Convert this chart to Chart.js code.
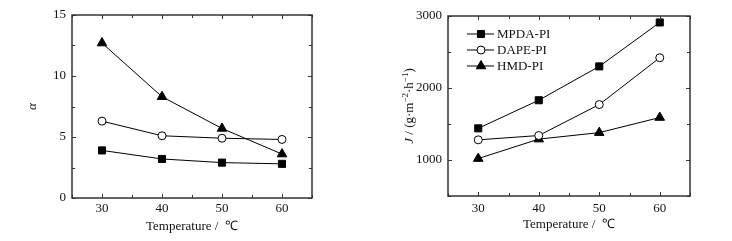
<!DOCTYPE html>
<html>
<head>
<meta charset="utf-8">
<script src="https://cdn.jsdelivr.net/npm/chart.js@4.4.0/dist/chart.umd.min.js"></script>
<style>
body { margin: 0; background: #fff; }
.panel { position: absolute; top: 0; width: 366px; height: 241px; }
</style>
</head>
<body>
<div class="panel" style="left:0"><canvas id="graficoAlfa" width="366" height="241"></canvas></div>
<div class="panel" style="left:366px"><canvas id="graficoFlujo" width="366" height="241"></canvas></div>
<script>
const temperaturas = [30, 40, 50, 60];
const nombres = ['MPDA-PI', 'DAPE-PI', 'HMD-PI'];

const alfaMPDA = [3.9, 3.2, 2.9, 2.8];
const alfaDAPE = [6.3, 5.1, 4.9, 4.8];
const alfaHMD = [12.7, 8.3, 5.7, 3.6];

const flujoMPDA = [1440, 1830, 2300, 2910];
const flujoDAPE = [1280, 1340, 1770, 2420];
const flujoHMD = [1020, 1290, 1380, 1590];

const FUENTE = 'Liberation Serif, Times New Roman, serif';
const estilos = [
    { pointStyle: 'rect', pointRadius: 5, bg: '#000' },
    { pointStyle: 'circle', pointRadius: 4, bg: '#fff' },
    { pointStyle: 'triangle', pointRadius: 5.5, bg: '#000' }
];

function armarSeries(series) {
    return series.map((valores, i) => ({
        label: nombres[i],
        data: temperaturas.map((t, j) => ({ x: t, y: valores[j] })),
        showLine: true,
        borderColor: '#000',
        borderWidth: 1,
        pointStyle: estilos[i].pointStyle,
        pointRadius: estilos[i].pointRadius,
        pointBackgroundColor: estilos[i].bg,
        pointBorderColor: '#000',
        pointBorderWidth: 1,
        tension: 0
    }));
}

// marcas hacia adentro en los cuatro lados + marco
const marcasInternas = {
    id: 'marcasInternas',
    afterDraw(chart) {
        const { ctx, chartArea: a, scales } = chart;
        ctx.save();
        ctx.strokeStyle = '#333';
        ctx.lineWidth = 1;
        ctx.beginPath();
        scales.x.ticks.forEach(t => {
            const px = Math.round(scales.x.getPixelForValue(t.value)) + 0.5;
            const len = t.label !== '' ? 4 : 3;
            ctx.moveTo(px, a.bottom); ctx.lineTo(px, a.bottom - len);
            ctx.moveTo(px, a.top); ctx.lineTo(px, a.top + len);
        });
        scales.y.ticks.forEach(t => {
            const py = Math.round(scales.y.getPixelForValue(t.value)) + 0.5;
            const len = t.label !== '' ? 4 : 3;
            ctx.moveTo(a.left, py); ctx.lineTo(a.left + len, py);
            ctx.moveTo(a.right, py); ctx.lineTo(a.right - len, py);
        });
        ctx.stroke();
        ctx.lineWidth = 1.5;
        ctx.strokeRect(a.left, a.top, a.right - a.left, a.bottom - a.top);
        ctx.restore();
    }
};

function dibujarMarcador(ctx, estilo, x, y) {
    const r = estilo.pointRadius;
    ctx.beginPath();
    if (estilo.pointStyle === 'rect') {
        const s = r * Math.SQRT1_2;
        ctx.rect(x - s, y - s, 2 * s, 2 * s);
    } else if (estilo.pointStyle === 'circle') {
        ctx.arc(x, y, r, 0, Math.PI * 2);
    } else {
        ctx.moveTo(x, y - r);
        ctx.lineTo(x + r * Math.sin(2 * Math.PI / 3), y + r / 2);
        ctx.lineTo(x - r * Math.sin(2 * Math.PI / 3), y + r / 2);
        ctx.closePath();
    }
    ctx.fillStyle = estilo.bg;
    ctx.fill();
    ctx.stroke();
}

const leyenda = {
    id: 'leyenda',
    afterDraw(chart) {
        const ctx = chart.ctx;
        ctx.save();
        ctx.strokeStyle = '#000';
        ctx.lineWidth = 1;
        ctx.font = '13px ' + FUENTE;
        ctx.fillStyle = '#111';
        ctx.textBaseline = 'middle';
        chart.data.datasets.forEach((ds, i) => {
            const y = 34 + i * 16;
            ctx.beginPath();
            ctx.moveTo(101, y); ctx.lineTo(128, y);
            ctx.stroke();
            dibujarMarcador(ctx, estilos[i], 115, y);
            ctx.fillStyle = '#111';
            ctx.fillText(ds.label, 131, y + 1);
        });
        ctx.restore();
    }
};

const tituloFlujo = {
    id: 'tituloFlujo',
    afterDraw(chart) {
        const ctx = chart.ctx;
        const a = chart.chartArea;
        const partes = [
            { t: 'J', f: 'italic 13px ' + FUENTE, dy: 0 },
            { t: ' / (g·m', f: '13px ' + FUENTE, dy: 0 },
            { t: '−2', f: '9px ' + FUENTE, dy: -4 },
            { t: '·h', f: '13px ' + FUENTE, dy: 0 },
            { t: '−1', f: '9px ' + FUENTE, dy: -4 },
            { t: ')', f: '13px ' + FUENTE, dy: 0 }
        ];
        ctx.save();
        let ancho = 0;
        partes.forEach(p => { ctx.font = p.f; p.w = ctx.measureText(p.t).width; ancho += p.w; });
        ctx.translate(44, (a.top + a.bottom) / 2);
        ctx.rotate(-Math.PI / 2);
        ctx.fillStyle = '#111';
        ctx.textBaseline = 'middle';
        let x = -ancho / 2;
        partes.forEach(p => { ctx.font = p.f; ctx.fillText(p.t, x, p.dy); x += p.w; });
        ctx.restore();
    }
};

function ejeX(alto, relleno, rellenoTitulo) {
    return {
        type: 'linear', min: 25, max: 65,
        grid: { display: false, drawTicks: false },
        border: { display: false },
        ticks: {
            stepSize: 5, padding: relleno, color: '#111', maxRotation: 0, autoSkip: false,
            font: { family: FUENTE, size: 13 },
            callback: v => (v % 10 === 0 && v >= 30 && v <= 60) ? v : ''
        },
        title: {
            display: true, text: 'Temperature /  ℃', color: '#111',
            font: { family: FUENTE, size: 13 },
            padding: { top: 0, bottom: rellenoTitulo }
        },
        afterFit: s => { s.height = alto; s.paddingLeft = 0; s.paddingRight = 0; }
    };
}

new Chart(document.getElementById('graficoAlfa').getContext('2d'), {
    type: 'scatter',
    data: { datasets: armarSeries([alfaMPDA, alfaDAPE, alfaHMD]) },
    options: {
        responsive: false,
        animation: false,
        layout: { padding: { top: 15, right: 54, left: 0, bottom: 0 } },
        plugins: { legend: { display: false }, tooltip: { enabled: false } },
        scales: {
            x: ejeX(43, 3, 6.5),
            y: {
                min: 0, max: 15,
                grid: { display: false, drawTicks: false },
                border: { display: false },
                ticks: {
                    stepSize: 2.5, padding: 6, color: '#111', autoSkip: false,
                    font: { family: FUENTE, size: 13 },
                    callback: v => v % 5 === 0 ? v : ''
                },
                title: {
                    display: true, text: 'α', color: '#111',
                    font: { family: FUENTE, size: 13, style: 'italic' },
                    padding: { top: 25, bottom: 0 }
                },
                afterFit: s => { s.width = 72; s.paddingTop = 0; s.paddingBottom = 0; }
            }
        }
    },
    plugins: [marcasInternas]
});

new Chart(document.getElementById('graficoFlujo').getContext('2d'), {
    type: 'scatter',
    data: { datasets: armarSeries([flujoMPDA, flujoDAPE, flujoHMD]) },
    options: {
        responsive: false,
        animation: false,
        layout: { padding: { top: 16, right: 42, left: 0, bottom: 0 } },
        plugins: { legend: { display: false }, tooltip: { enabled: false } },
        scales: {
            x: ejeX(45, 5, 9),
            y: {
                min: 500, max: 3000,
                grid: { display: false, drawTicks: false },
                border: { display: false },
                ticks: {
                    stepSize: 500, padding: 6, color: '#111', autoSkip: false,
                    font: { family: FUENTE, size: 13 },
                    callback: v => v % 1000 === 0 ? v : ''
                },
                afterFit: s => { s.width = 82; s.paddingTop = 0; s.paddingBottom = 0; }
            }
        }
    },
    plugins: [marcasInternas, leyenda, tituloFlujo]
});
</script>
</body>
</html>
